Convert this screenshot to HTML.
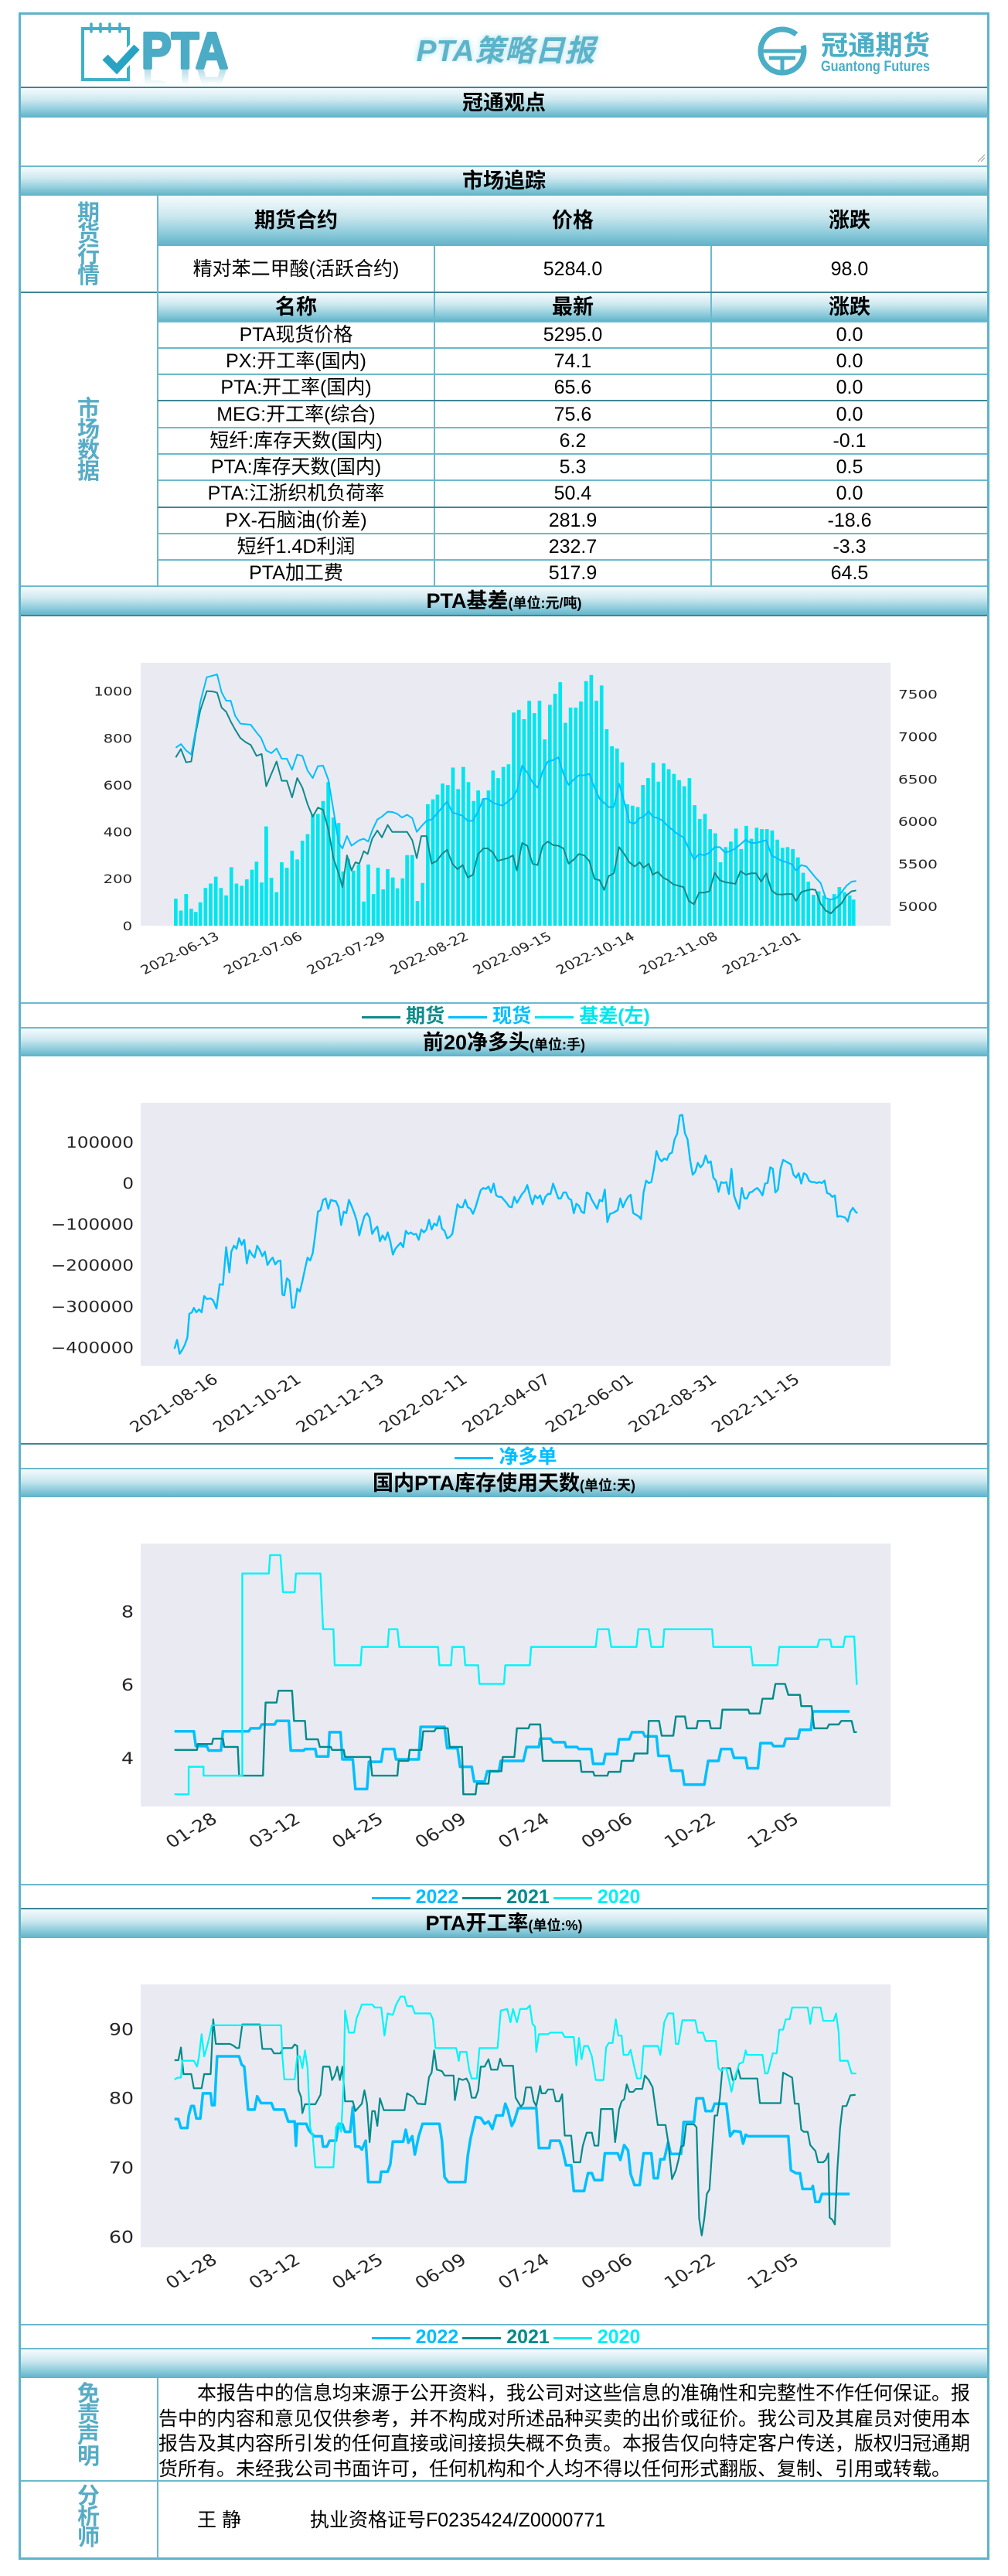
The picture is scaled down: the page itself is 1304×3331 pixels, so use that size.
<!DOCTYPE html>
<html><head><meta charset="utf-8">
<style>
*{margin:0;padding:0;box-sizing:border-box}
body{width:1304px;height:3331px;position:relative;background:#fff;overflow:hidden;font-family:"Liberation Sans","Noto Sans CJK SC",sans-serif;color:#000}
.frame{position:absolute;left:24px;top:16px;width:1256px;height:3294px;border:3px solid #5fb3c9}
.bar{position:absolute;left:27px;width:1250px;background:linear-gradient(to bottom,#f5fbfd 0%,#cde8ef 40%,#8ccbdb 75%,#5fb2c8 100%);text-align:center;font-weight:bold;font-size:27px;white-space:nowrap}
.bar small{font-size:18px;font-weight:bold}
.hl{position:absolute;left:27px;width:1250px;height:2px;background:#6cb9cd}
.dl{position:absolute;left:27px;width:1250px;height:2px;background:#3e8595}
.vl{position:absolute;width:2px;background:#6cb9cd}
.c{position:absolute;text-align:center;font-size:25px;white-space:nowrap;height:34px;line-height:34px}
.h{position:absolute;text-align:center;font-size:27px;font-weight:bold;white-space:nowrap}
.vt{position:absolute;left:25px;width:179px;text-align:center;color:#56acc6;font-weight:bold;font-size:29px;line-height:27px}
.lg{position:absolute;left:27px;width:1250px;text-align:center;font-weight:bold;font-size:25px;white-space:nowrap;height:32px;line-height:32px}
.lg i{display:inline-block;width:50px;height:3px;vertical-align:middle;margin:0 7px 0 5px}
.dis{position:absolute;left:205px;font-size:25px;line-height:32.7px;white-space:nowrap}
</style></head><body>
<div class="frame"></div>

<!-- header -->
<svg class="a" style="position:absolute;left:0;top:0" width="1304" height="115">
  <defs>
    <linearGradient id="rf" gradientUnits="userSpaceOnUse" x1="0" y1="88" x2="0" y2="66">
      <stop offset="0" stop-color="#4cabc5" stop-opacity="0.45"/>
      <stop offset="1" stop-color="#4cabc5" stop-opacity="0"/>
    </linearGradient>
  </defs>
  <rect x="107" y="37" width="59" height="66" fill="none" stroke="#3eb0c9" stroke-width="4"/>
  <g stroke="#3eb0c9" stroke-width="3.5" stroke-linecap="round">
    <line x1="118" y1="31" x2="118" y2="41"/><line x1="130" y1="31" x2="130" y2="41"/>
    <line x1="142" y1="31" x2="142" y2="41"/><line x1="155" y1="31" x2="155" y2="41"/>
  </g>
  <polyline points="136,74 151,89 177,61" fill="none" stroke="#fff" stroke-width="18"/>
  <polyline points="136,74 151,89 177,61" fill="none" stroke="#29a3c3" stroke-width="10"/>
  <text x="183" y="88" font-family="Liberation Sans" font-weight="bold" font-size="66" fill="#4cabc5" stroke="#4cabc5" stroke-width="3.5" stroke-linejoin="round" textLength="112" lengthAdjust="spacingAndGlyphs">PTA</text>
  <g transform="translate(0,176) scale(1,-1)">
    <text x="183" y="88" font-family="Liberation Sans" font-weight="bold" font-size="66" fill="url(#rf)" textLength="112" lengthAdjust="spacingAndGlyphs">PTA</text>
  </g>
  <path d="M1030,44.6 A28,28 0 1,0 1039,58.8" fill="none" stroke="#4aaec6" stroke-width="7"/>
  <g stroke="#4aaec6" stroke-width="5">
    <line x1="986" y1="66" x2="1041" y2="66"/>
    <line x1="995" y1="75" x2="1029" y2="75"/>
    <line x1="1012" y1="75" x2="1012" y2="93"/>
  </g>
  <text x="1062" y="71" font-family="Liberation Sans,Noto Sans CJK SC,sans-serif" font-weight="bold" font-size="35" fill="#4aaec6" textLength="141" lengthAdjust="spacingAndGlyphs">冠通期货</text>
  <text x="1062" y="92" font-family="Liberation Sans,sans-serif" font-weight="bold" font-size="19" fill="#4aaec6" textLength="141" lengthAdjust="spacingAndGlyphs">Guantong Futures</text>
</svg>
<div class="a" style="position:absolute;left:454px;top:47px;width:400px;height:40px;line-height:40px;text-align:center;font-size:39px;font-weight:bold;font-style:italic;color:#5db3c9;text-shadow:0 0 6px #bfe6ef,0 0 12px #d5eff5;white-space:nowrap">PTA策略日报</div>
<div class="dl" style="top:112px"></div>

<!-- 冠通观点 -->
<div class="bar" style="top:114px;height:38px;line-height:38px">冠通观点</div>
<svg style="position:absolute;left:1262px;top:197px" width="14" height="14"><line x1="3" y1="12" x2="12" y2="3" stroke="#999" stroke-width="1"/><line x1="7" y1="12" x2="12" y2="7" stroke="#999" stroke-width="1"/></svg>
<div class="hl" style="top:214px"></div>

<!-- 市场追踪 -->
<div class="bar" style="top:216px;height:37px;line-height:37px">市场追踪</div>

<!-- futures -->
<div class="bar" style="left:205px;width:1072px;top:253px;height:65px"></div>
<div class="h" style="left:204px;width:358px;top:253px;height:65px;line-height:65px">期货合约</div>
<div class="h" style="left:562px;width:358px;top:253px;height:65px;line-height:65px">价格</div>
<div class="h" style="left:920px;width:358px;top:253px;height:65px;line-height:65px">涨跌</div>
<div class="c" style="left:204px;width:358px;top:331px">精对苯二甲酸(活跃合约)</div>
<div class="c" style="left:562px;width:358px;top:331px">5284.0</div>
<div class="c" style="left:920px;width:358px;top:331px">98.0</div>
<div class="vl" style="left:561px;top:318px;height:60px"></div>
<div class="vl" style="left:919px;top:318px;height:60px"></div>
<div class="vt" style="top:263px">期<br>货<br>行<br>情</div>
<div class="dl" style="top:377px"></div>

<!-- market data -->
<div class="bar" style="left:205px;width:1072px;top:379px;height:37px"></div>
<div class="h" style="left:204px;width:358px;top:379px;height:37px;line-height:37px">名称</div>
<div class="h" style="left:562px;width:358px;top:379px;height:37px;line-height:37px">最新</div>
<div class="h" style="left:920px;width:358px;top:379px;height:37px;line-height:37px">涨跌</div>
<div class="vt" style="top:516px">市<br>场<br>数<br>据</div>
<div class="vl" style="left:203px;top:253px;height:505px"></div>
<div class="vl" style="left:561px;top:379px;height:379px"></div>
<div class="vl" style="left:919px;top:379px;height:379px"></div>

<div class="hl" style="left:204px;width:1073px;top:415px"></div>
<div class="hl" style="left:204px;width:1073px;top:449px"></div>
<div class="hl" style="left:204px;width:1073px;top:483px"></div>
<div class="dl" style="left:204px;width:1073px;top:517px"></div>
<div class="hl" style="left:204px;width:1073px;top:552px"></div>
<div class="hl" style="left:204px;width:1073px;top:586px"></div>
<div class="hl" style="left:204px;width:1073px;top:620px"></div>
<div class="dl" style="left:204px;width:1073px;top:655px"></div>
<div class="hl" style="left:204px;width:1073px;top:689px"></div>
<div class="hl" style="left:204px;width:1073px;top:723px"></div>

<div class="c" style="left:204px;width:358px;top:416px">PTA现货价格</div><div class="c" style="left:562px;width:358px;top:416px">5295.0</div><div class="c" style="left:920px;width:358px;top:416px">0.0</div>
<div class="c" style="left:204px;width:358px;top:450px">PX:开工率(国内)</div><div class="c" style="left:562px;width:358px;top:450px">74.1</div><div class="c" style="left:920px;width:358px;top:450px">0.0</div>
<div class="c" style="left:204px;width:358px;top:484px">PTA:开工率(国内)</div><div class="c" style="left:562px;width:358px;top:484px">65.6</div><div class="c" style="left:920px;width:358px;top:484px">0.0</div>
<div class="c" style="left:204px;width:358px;top:519px">MEG:开工率(综合)</div><div class="c" style="left:562px;width:358px;top:519px">75.6</div><div class="c" style="left:920px;width:358px;top:519px">0.0</div>
<div class="c" style="left:204px;width:358px;top:553px">短纤:库存天数(国内)</div><div class="c" style="left:562px;width:358px;top:553px">6.2</div><div class="c" style="left:920px;width:358px;top:553px">-0.1</div>
<div class="c" style="left:204px;width:358px;top:587px">PTA:库存天数(国内)</div><div class="c" style="left:562px;width:358px;top:587px">5.3</div><div class="c" style="left:920px;width:358px;top:587px">0.5</div>
<div class="c" style="left:204px;width:358px;top:621px">PTA:江浙织机负荷率</div><div class="c" style="left:562px;width:358px;top:621px">50.4</div><div class="c" style="left:920px;width:358px;top:621px">0.0</div>
<div class="c" style="left:204px;width:358px;top:656px">PX-石脑油(价差)</div><div class="c" style="left:562px;width:358px;top:656px">281.9</div><div class="c" style="left:920px;width:358px;top:656px">-18.6</div>
<div class="c" style="left:204px;width:358px;top:690px">短纤1.4D利润</div><div class="c" style="left:562px;width:358px;top:690px">232.7</div><div class="c" style="left:920px;width:358px;top:690px">-3.3</div>
<div class="c" style="left:204px;width:358px;top:724px">PTA加工费</div><div class="c" style="left:562px;width:358px;top:724px">517.9</div><div class="c" style="left:920px;width:358px;top:724px">64.5</div>
<div class="hl" style="top:757px"></div>

<!-- chart bars and legends -->
<div class="bar" style="top:759px;height:37px;line-height:37px">PTA基差<small>(单位:元/吨)</small></div>
<div class="dl" style="top:795px"></div>
<div class="hl" style="top:1296px"></div>
<div class="lg" style="top:1298px"><i style="background:#0f8b8b"></i><span style="color:#0f8b8b">期货</span><i style="background:#00bfff"></i><span style="color:#00bfff">现货</span><i style="background:#00e5ee"></i><span style="color:#00e5ee">基差(左)</span></div>
<div class="hl" style="top:1328px"></div>

<div class="bar" style="top:1330px;height:36px;line-height:36px">前20净多头<small>(单位:手)</small></div>
<div class="dl" style="top:1866px"></div>
<div class="lg" style="top:1868px"><i style="background:#00bfff"></i><span style="color:#00bfff">净多单</span></div>
<div class="hl" style="top:1898px"></div>

<div class="bar" style="top:1900px;height:36px;line-height:36px">国内PTA库存使用天数<small>(单位:天)</small></div>
<div class="hl" style="top:2436px"></div>
<div class="lg" style="top:2437px"><i style="background:#00bfff"></i><span style="color:#00bfff">2022</span><i style="background:#008b8b"></i><span style="color:#008b8b">2021</span><i style="background:#00f0f5"></i><span style="color:#00f0f5">2020</span></div>
<div class="dl" style="top:2467px"></div>

<div class="bar" style="top:2469px;height:37px;line-height:37px">PTA开工率<small>(单位:%)</small></div>
<div class="hl" style="top:3005px"></div>
<div class="lg" style="top:3006px"><i style="background:#00bfff"></i><span style="color:#00bfff">2022</span><i style="background:#008b8b"></i><span style="color:#008b8b">2021</span><i style="background:#00f0f5"></i><span style="color:#00f0f5">2020</span></div>
<div class="hl" style="top:3036px"></div>

<div class="bar" style="top:3038px;height:37px"></div>

<!-- disclaimer -->
<div class="vl" style="left:203px;top:3075px;height:234px"></div>
<div class="vt" style="top:3083px">免<br>责<br>声<br>明</div>
<div class="dis" style="top:3079px">
<span style="padding-left:50px">本报告中的信息均来源于公开资料，我公司对这些信息的准确性和完整性不作任何保证。报</span><br>告中的内容和意见仅供参考，并不构成对所述品种买卖的出价或征价。我公司及其雇员对使用本<br>报告及其内容所引发的任何直接或间接损失概不负责。本报告仅向特定客户传送，版权归冠通期<br>货所有。未经我公司书面许可，任何机构和个人均不得以任何形式翻版、复制、引用或转载。</div>
<div class="hl" style="top:3207px"></div>
<div class="vt" style="top:3215px">分<br>析<br>师</div>
<div class="a" style="position:absolute;left:255px;top:3242px;font-size:25px;line-height:34px;white-space:nowrap">王 静</div>
<div class="a" style="position:absolute;left:401px;top:3242px;font-size:25px;line-height:34px;white-space:nowrap">执业资格证号F0235424/Z0000771</div>

<!-- charts -->
<svg style="position:absolute;left:0;top:0" width="1304" height="3331" font-family="DejaVu Sans" fill="#262626">
<!-- chart 1 -->
<rect x="182" y="857" width="970" height="340" fill="#eaeaf2"/>
<g transform="matrix(0.8359 0 0 0.35714 0 790)">
<path fill="none" stroke="#00e5ee" stroke-width="5.6" d="M272 1140V1042M280 1140V1085M288 1140V1025M296 1140V1078M303 1140V1090M310 1140V1055M318 1140V1003M326 1140V987M334 1140V962M342 1140V1003M350 1140V1030M358 1140V928M366 1140V987M374 1140V995M382 1140V972M390 1140V937M397 1140V908M405 1140V983M412 1140V780M420 1140V966M428 1140V1018M436 1140V910M444 1140V930M452 1140V868M460 1140V900M468 1140V832M476 1140V808M484 1140V735M492 1140V735M500 1140V688M508 1140V620M516 1140V748M524 1140V768M531 1140V943M539 1140V898M547 1140V940M555 1140V918M563 1140V1052M570 1140V918M578 1140V1025M585 1140V930M593 1140V1008M600 1140V935M608 1140V965M615 1140V1004M623 1140V968M630 1140V884M638 1140V884M646 1140V1050M654 1140V985M662 1140V700M670 1140V682M677 1140V665M685 1140V625M693 1140V630M701 1140V567M709 1140V645M717 1140V565M725 1140V620M733 1140V688M740 1140V650M748 1140V680M756 1140V650M763 1140V578M771 1140V605M779 1140V565M787 1140V555M795 1140V368M803 1140V358M811 1140V392M819 1140V325M827 1140V370M835 1140V325M843 1140V465M851 1140V340M859 1140V300M867 1140V258M875 1140V405M883 1140V350M891 1140V350M899 1140V328M907 1140V254M915 1140V232M923 1140V325M931 1140V270M939 1140V428M947 1140V490M955 1140V498M963 1140V548M971 1140V700M979 1140V705M987 1140V710M995 1140V630M1003 1140V605M1011 1140V550M1019 1140V618M1027 1140V552M1035 1140V573M1043 1140V590M1051 1140V613M1059 1140V635M1067 1140V605M1075 1140V703M1083 1140V753M1091 1140V735M1099 1140V790M1107 1140V805M1115 1140V910M1123 1140V855M1131 1140V835M1139 1140V788M1147 1140V862M1155 1140V778M1163 1140V825M1171 1140V785M1179 1140V790M1187 1140V790M1195 1140V795M1203 1140V828M1211 1140V858M1219 1140V855M1227 1140V862M1235 1140V892M1243 1140V948M1251 1140V980M1259 1140V1028M1267 1140V1015M1275 1140V1030M1283 1140V1042M1291 1140V1025M1299 1140V1000M1307 1140V1018M1315 1140V1030M1321 1140V1045"/>
<polyline fill="none" stroke="#0f8b8b" stroke-width="2" stroke-linejoin="round" vector-effect="non-scaling-stroke" points="272,530 280,500 288,548 296,545 303,440 310,360 320,290 330,292 336,296 343,350 350,365 357,400 364,430 372,460 380,475 388,485 397,525 405,518 412,635 420,590 428,545 436,615 444,615 452,675 460,605 468,640 476,700 484,745 492,712 500,720 508,790 516,895 524,950 530,1000 537,885 544,940 550,910 556,915 563,870 569,880 576,825 584,795 591,820 600,775 607,800 615,800 622,800 630,800 638,830 645,895 652,815 660,815 668,915 676,905 684,880 692,865 700,915 708,935 716,920 724,965 732,955 740,880 748,860 755,860 763,875 770,905 778,900 786,895 794,885 800,940 808,840 816,850 824,915 832,920 840,850 848,835 856,848 864,850 872,860 880,915 888,900 896,880 904,885 912,905 920,970 928,975 935,1010 942,960 950,950 958,855 966,880 974,910 982,925 990,910 996,930 1004,915 1010,955 1018,945 1026,965 1034,975 1042,990 1050,995 1058,1000 1066,1050 1074,1062 1082,1020 1090,1020 1098,1015 1106,948 1114,975 1122,982 1130,985 1138,988 1146,942 1154,955 1162,950 1170,950 1178,980 1186,950 1194,1012 1202,1026 1210,1027 1218,1025 1226,1025 1232,1050 1240,1018 1248,1012 1256,1008 1262,1010 1270,1060 1278,1085 1286,1095 1294,1075 1302,1060 1310,1030 1318,1015 1325,1012"/>
<polyline fill="none" stroke="#00bfff" stroke-width="2" stroke-linejoin="round" vector-effect="non-scaling-stroke" points="272,495 280,482 288,505 296,520 303,430 310,330 320,240 328,235 336,230 343,295 350,325 357,325 364,380 372,408 380,410 388,412 397,440 404,460 412,505 420,515 428,498 436,535 444,535 452,575 460,520 468,525 476,578 484,605 492,562 500,560 508,610 516,720 524,840 530,860 537,815 544,850 550,840 556,830 563,825 570,835 576,795 584,755 591,745 600,727 607,728 615,735 622,748 630,738 638,750 645,800 652,780 660,760 668,755 676,735 684,712 692,690 700,730 708,735 716,742 724,760 732,760 740,725 748,680 755,680 763,695 770,700 778,705 786,690 794,675 800,650 808,560 816,585 824,620 832,640 840,580 848,545 856,540 864,530 872,590 880,630 888,610 896,595 904,595 912,590 920,640 928,680 935,695 942,710 950,710 958,625 966,690 974,765 982,770 990,750 996,745 1004,725 1010,745 1018,750 1026,760 1034,780 1042,795 1050,810 1058,820 1066,860 1074,900 1082,880 1090,885 1098,875 1106,855 1114,855 1122,875 1130,870 1138,860 1146,845 1154,828 1162,840 1170,840 1178,835 1186,830 1194,885 1202,895 1210,905 1218,910 1226,918 1232,940 1240,920 1248,925 1256,948 1262,965 1270,985 1278,1040 1286,1045 1294,1040 1302,1020 1310,995 1318,980 1325,978"/>
</g>
<g font-size="16" text-anchor="end">
<text transform="translate(171 1202.8) scale(1.22 1)">0</text>
<text transform="translate(171 1142.2) scale(1.22 1)">200</text>
<text transform="translate(171 1081.5) scale(1.22 1)">400</text>
<text transform="translate(171 1020.8) scale(1.22 1)">600</text>
<text transform="translate(171 960.4) scale(1.22 1)">800</text>
<text transform="translate(171 899.4) scale(1.22 1)">1000</text>
<text transform="translate(285 1214) scale(1.22 1) rotate(-30)">2022-06-13</text>
<text transform="translate(392.5 1214) scale(1.22 1) rotate(-30)">2022-07-06</text>
<text transform="translate(500 1214) scale(1.22 1) rotate(-30)">2022-07-29</text>
<text transform="translate(607.5 1214) scale(1.22 1) rotate(-30)">2022-08-22</text>
<text transform="translate(715 1214) scale(1.22 1) rotate(-30)">2022-09-15</text>
<text transform="translate(822.5 1214) scale(1.22 1) rotate(-30)">2022-10-14</text>
<text transform="translate(930 1214) scale(1.22 1) rotate(-30)">2022-11-08</text>
<text transform="translate(1037.5 1214) scale(1.22 1) rotate(-30)">2022-12-01</text>
</g>
<g font-size="16" text-anchor="start">
<text transform="translate(1162 1177.9) scale(1.25 1)">5000</text>
<text transform="translate(1162 1123.1) scale(1.25 1)">5500</text>
<text transform="translate(1162 1068.2) scale(1.25 1)">6000</text>
<text transform="translate(1162 1013.4) scale(1.25 1)">6500</text>
<text transform="translate(1162 958.5) scale(1.25 1)">7000</text>
<text transform="translate(1162 903.7) scale(1.25 1)">7500</text>
</g>

<!-- chart 2 -->
<rect x="182" y="1426" width="970" height="340" fill="#eaeaf2"/>
<g transform="matrix(0.8359 0 0 0.3827 0 1320)">
<polyline fill="none" stroke="#00bfff" stroke-width="2.4" stroke-linejoin="round" vector-effect="non-scaling-stroke" points="270,1108 274,1078 278,1125 282,1112 286,1095 290,1070 293,990 297,985 300,970 304,985 308,975 312,985 316,930 320,940 326,938 330,945 335,972 340,890 345,892 350,765 355,850 358,780 362,760 366,770 370,735 374,757 378,740 382,820 386,775 390,790 394,800 398,760 402,775 406,795 410,780 414,825 418,810 422,800 426,823 430,812 434,810 437,925 440,928 444,870 448,878 452,970 456,968 460,905 464,915 468,880 472,838 476,800 480,810 484,785 488,720 492,645 496,640 500,605 504,600 508,635 512,605 516,608 520,610 524,630 528,690 532,645 536,650 540,605 544,625 548,648 552,675 556,725 560,690 564,660 568,650 572,665 576,720 580,705 584,695 588,745 592,725 596,740 600,715 604,745 608,790 612,770 616,760 620,750 624,765 628,710 632,720 636,715 640,722 644,720 648,740 652,705 656,715 660,705 664,672 668,705 672,685 676,692 680,660 684,702 688,710 692,735 696,730 700,720 704,670 708,620 712,630 716,630 720,605 724,630 728,635 732,652 736,630 740,600 744,572 748,565 752,568 756,560 760,580 764,550 768,590 772,595 776,595 780,605 784,615 788,628 792,630 796,595 800,615 804,600 808,585 812,575 816,555 820,590 824,620 828,590 832,600 836,590 840,620 844,595 848,585 852,585 856,550 860,575 864,600 868,600 872,580 876,580 880,600 884,605 888,650 892,618 896,625 900,645 904,650 908,580 912,585 916,605 920,620 924,635 928,605 932,610 936,570 940,680 944,652 948,650 952,645 956,640 960,600 964,630 968,610 972,595 976,588 980,650 984,655 988,660 992,670 996,580 1000,540 1004,548 1008,545 1012,500 1016,440 1020,465 1024,475 1028,465 1032,470 1036,450 1040,445 1044,400 1048,382 1052,320 1056,318 1060,380 1064,400 1068,470 1072,520 1076,510 1080,480 1084,495 1088,485 1092,455 1096,480 1100,475 1104,530 1108,540 1112,578 1116,545 1120,548 1124,545 1128,585 1132,500 1136,590 1140,615 1144,635 1148,565 1152,600 1156,600 1160,580 1164,578 1168,570 1172,565 1176,575 1180,590 1184,550 1188,548 1192,495 1196,500 1200,580 1204,570 1208,500 1212,470 1216,475 1220,480 1224,485 1228,520 1232,530 1236,515 1240,550 1244,515 1248,520 1252,540 1256,545 1260,545 1264,548 1268,545 1272,548 1276,540 1280,582 1284,585 1288,595 1292,590 1296,662 1300,660 1304,662 1308,665 1312,678 1316,645 1320,632 1324,645 1327,650"/>
</g>
<g font-size="19.5" text-anchor="end">
<text transform="translate(173 1484) scale(1.18 1)">100000</text>
<text transform="translate(173 1536.8) scale(1.18 1)">0</text>
<text transform="translate(173 1590) scale(1.18 1)">−100000</text>
<text transform="translate(173 1643.2) scale(1.18 1)">−200000</text>
<text transform="translate(173 1696.4) scale(1.18 1)">−300000</text>
<text transform="translate(173 1749.6) scale(1.18 1)">−400000</text>
<text transform="translate(283.5 1786.5) scale(1.18 1) rotate(-36)">2021-08-16</text>
<text transform="translate(391 1786.5) scale(1.18 1) rotate(-36)">2021-10-21</text>
<text transform="translate(498.5 1786.5) scale(1.18 1) rotate(-36)">2021-12-13</text>
<text transform="translate(606 1786.5) scale(1.18 1) rotate(-36)">2022-02-11</text>
<text transform="translate(713.5 1786.5) scale(1.18 1) rotate(-36)">2022-04-07</text>
<text transform="translate(821 1786.5) scale(1.18 1) rotate(-36)">2022-06-01</text>
<text transform="translate(928.5 1786.5) scale(1.18 1) rotate(-36)">2022-08-31</text>
<text transform="translate(1036 1786.5) scale(1.18 1) rotate(-36)">2022-11-15</text>
</g>

<!-- chart 3 -->
<rect x="182" y="1996" width="970" height="340" fill="#eaeaf2"/>
<g transform="matrix(0.8359 0 0 0.3827 0 1900)" fill="none" stroke-linejoin="round">
<polyline stroke="#00bfff" stroke-width="3.5" vector-effect="non-scaling-stroke" points="270,885 300,885 303,935 320,935 323,950 342,950 345,885 385,885 388,875 402,875 405,862 425,862 428,850 447,850 450,950 470,950 472,945 488,945 490,970 508,970 510,888 527,888 530,980 546,980 550,1080 568,1080 571,988 590,988 593,945 610,945 613,980 648,980 651,870 688,870 692,942 708,942 712,1005 730,1005 734,1055 750,1055 754,1020 772,1020 775,985 810,985 815,938 834,938 836,910 852,910 856,922 874,922 876,938 893,938 896,945 915,945 918,995 934,995 937,962 955,962 958,912 974,912 978,888 995,888 998,902 1016,902 1019,968 1035,968 1039,1018 1056,1018 1059,1065 1090,1065 1096,985 1112,985 1116,945 1132,945 1136,975 1154,975 1157,1010 1173,1010 1177,925 1194,925 1197,935 1213,935 1216,910 1235,910 1238,880 1255,880 1258,818 1315,818"/>
<polyline stroke="#008b8b" stroke-width="2.4" vector-effect="non-scaling-stroke" points="270,948 305,948 306,928 328,928 330,910 345,910 347,938 368,938 370,1035 407,1035 411,788 428,788 431,748 452,748 455,850 472,850 474,912 492,912 495,938 512,938 514,948 532,948 534,972 573,972 576,1035 615,1035 617,985 632,985 634,948 652,948 655,885 672,885 675,875 693,875 696,938 715,938 717,1098 736,1098 738,1062 756,1062 758,1020 776,1020 778,972 796,972 800,875 818,875 820,862 836,862 840,985 898,985 900,1022 918,1022 920,1035 940,1035 942,1022 960,1022 962,985 980,985 982,960 1002,960 1004,850 1020,850 1024,900 1042,900 1046,835 1060,835 1063,875 1078,875 1080,850 1098,850 1100,875 1115,875 1118,812 1158,812 1160,825 1176,825 1180,775 1196,775 1200,725 1215,725 1220,762 1238,762 1240,800 1256,800 1260,875 1280,875 1283,862 1298,862 1302,850 1318,850 1322,888 1326,888"/>
<polyline stroke="#00f5f8" stroke-width="2.4" vector-effect="non-scaling-stroke" points="270,1098 292,1098 292,1005 315,1005 315,1035 375,1035 375,352 416,352 418,290 434,290 438,415 456,415 458,352 496,352 500,540 516,540 518,662 558,662 560,600 600,600 602,540 615,540 618,600 678,600 680,662 698,662 700,600 718,600 720,662 740,662 742,725 780,725 782,662 820,662 822,600 922,600 925,540 942,540 946,600 985,600 988,540 1004,540 1008,600 1026,600 1028,540 1102,540 1104,600 1162,600 1165,662 1203,662 1206,600 1265,600 1268,575 1285,575 1287,600 1305,600 1308,565 1322,565 1326,728"/>
</g>
<g font-size="21.5" text-anchor="end">
<text transform="translate(173 2091.5) scale(1.17 1)">8</text>
<text transform="translate(173 2186) scale(1.17 1)">6</text>
<text transform="translate(173 2280.9) scale(1.17 1)">4</text>
<text transform="translate(282.5 2355.5) scale(1.17 1) rotate(-34)">01-28</text>
<text transform="translate(390 2355.5) scale(1.17 1) rotate(-34)">03-12</text>
<text transform="translate(497.5 2355.5) scale(1.17 1) rotate(-34)">04-25</text>
<text transform="translate(605 2355.5) scale(1.17 1) rotate(-34)">06-09</text>
<text transform="translate(712.5 2355.5) scale(1.17 1) rotate(-34)">07-24</text>
<text transform="translate(820 2355.5) scale(1.17 1) rotate(-34)">09-06</text>
<text transform="translate(927.5 2355.5) scale(1.17 1) rotate(-34)">10-22</text>
<text transform="translate(1035 2355.5) scale(1.17 1) rotate(-34)">12-05</text>
</g>

<!-- chart 4 -->
<rect x="182" y="2566" width="970" height="340" fill="#eaeaf2"/>
<g transform="matrix(0.8359 0 0 0.3827 0 2460)" fill="none" stroke-linejoin="round">
<polyline stroke="#00bfff" stroke-width="3.5" vector-effect="non-scaling-stroke" points="270,732 276,732 280,762 290,762 292,720 296,688 300,688 304,730 310,730 314,645 326,645 328,685 332,685 336,520 370,520 374,548 378,555 384,700 394,700 398,655 404,678 420,678 424,700 440,700 446,740 456,740 458,822 460,748 474,748 478,770 486,790 498,790 500,825 506,825 510,805 520,805 524,748 530,750 534,775 542,775 546,692 550,825 556,825 560,835 566,805 570,945 588,945 590,910 600,910 604,885 608,808 624,808 628,768 632,812 638,790 642,852 648,790 654,748 680,748 684,805 688,928 694,945 720,945 724,855 728,800 736,725 744,728 750,748 756,740 762,765 768,720 778,720 782,680 786,702 792,755 796,738 802,695 830,695 834,830 850,830 852,805 866,805 870,830 876,888 884,888 888,975 904,975 910,915 916,915 920,938 932,938 936,848 956,848 960,870 966,820 972,838 976,918 982,955 990,955 996,848 1008,848 1012,932 1018,932 1022,868 1028,868 1034,810 1038,850 1054,850 1058,742 1074,742 1078,662 1088,662 1092,705 1102,705 1106,680 1124,680 1130,790 1136,772 1146,775 1150,815 1154,785 1158,790 1220,790 1224,905 1232,915 1238,915 1242,968 1256,968 1258,958 1262,1012 1268,1012 1272,985 1290,985 1315,985"/>
<polyline stroke="#008b8b" stroke-width="2.2" vector-effect="non-scaling-stroke" points="270,533 276,533 280,490 284,580 296,580 300,628 312,628 316,580 326,580 330,395 334,478 356,478 362,485 366,492 370,492 375,412 402,412 406,495 420,495 424,510 434,510 438,492 452,492 456,480 460,485 462,635 466,658 468,712 472,682 488,682 496,650 500,555 510,555 514,600 518,585 522,555 526,600 530,555 534,672 546,672 550,705 556,690 560,680 564,635 568,680 572,810 576,705 580,705 584,755 588,662 594,702 626,702 630,645 640,658 646,680 658,682 664,590 668,575 672,500 676,565 684,570 688,585 702,585 704,668 710,595 716,600 722,595 726,612 730,660 736,660 740,635 744,555 750,555 756,530 760,565 770,565 774,528 778,552 794,552 798,660 806,690 810,680 814,625 822,625 826,672 830,688 836,620 838,645 844,645 848,632 856,632 860,672 866,672 870,648 874,788 884,788 888,878 898,878 902,822 908,778 916,778 920,822 926,822 930,698 948,698 952,810 958,700 962,672 966,665 970,615 974,640 980,640 984,630 994,630 998,585 1004,600 1010,625 1018,752 1030,752 1034,808 1040,935 1046,905 1050,870 1054,825 1058,822 1062,750 1074,750 1078,760 1082,1068 1086,1125 1090,1068 1094,985 1098,970 1102,840 1106,720 1110,720 1114,660 1118,560 1130,560 1134,600 1138,598 1142,560 1146,595 1172,595 1176,678 1208,678 1212,575 1226,592 1230,680 1236,680 1240,768 1244,775 1250,775 1254,820 1262,840 1266,878 1274,878 1278,870 1282,848 1284,1065 1288,1072 1292,1088 1296,900 1300,765 1304,688 1310,688 1316,652 1324,650"/>
<polyline stroke="#00f5f8" stroke-width="2.2" vector-effect="non-scaling-stroke" points="270,598 275,592 280,592 282,535 300,535 305,555 308,520 312,445 316,520 320,490 324,455 328,415 435,415 437,520 440,598 456,598 460,520 464,520 468,560 472,500 476,560 480,760 484,790 488,895 516,895 520,760 524,745 528,775 532,600 534,365 540,440 548,440 552,390 556,370 560,345 576,345 580,355 590,355 595,450 600,375 608,380 613,345 620,318 626,318 630,350 638,350 642,375 666,375 670,395 674,492 706,492 710,535 712,505 722,505 726,565 730,595 738,595 742,492 770,492 775,365 785,360 790,405 794,360 800,405 805,360 815,360 820,348 824,410 828,420 830,505 834,445 848,445 852,440 870,440 874,455 888,455 892,550 896,458 900,530 904,485 910,485 916,520 922,600 934,600 938,490 942,475 948,475 953,395 957,450 962,450 965,515 972,515 976,498 982,560 986,595 992,595 996,485 1018,485 1022,515 1028,405 1034,375 1042,375 1046,478 1050,478 1056,398 1076,398 1080,440 1088,440 1092,468 1108,468 1112,560 1116,570 1120,560 1124,560 1128,598 1132,640 1136,600 1144,545 1150,540 1154,500 1156,515 1180,515 1184,578 1188,578 1192,545 1196,510 1202,510 1206,430 1212,430 1216,395 1222,395 1226,355 1250,355 1254,410 1258,355 1270,355 1274,400 1290,400 1294,375 1298,440 1300,535 1312,535 1318,578 1325,578"/>
</g>
<g font-size="21.5" text-anchor="end">
<text transform="translate(173 2631.6) scale(1.17 1)">90</text>
<text transform="translate(173 2720.4) scale(1.17 1)">80</text>
<text transform="translate(173 2810.3) scale(1.17 1)">70</text>
<text transform="translate(173 2900.2) scale(1.17 1)">60</text>
<text transform="translate(282.5 2925.5) scale(1.17 1) rotate(-34)">01-28</text>
<text transform="translate(390 2925.5) scale(1.17 1) rotate(-34)">03-12</text>
<text transform="translate(497.5 2925.5) scale(1.17 1) rotate(-34)">04-25</text>
<text transform="translate(605 2925.5) scale(1.17 1) rotate(-34)">06-09</text>
<text transform="translate(712.5 2925.5) scale(1.17 1) rotate(-34)">07-24</text>
<text transform="translate(820 2925.5) scale(1.17 1) rotate(-34)">09-06</text>
<text transform="translate(927.5 2925.5) scale(1.17 1) rotate(-34)">10-22</text>
<text transform="translate(1035 2925.5) scale(1.17 1) rotate(-34)">12-05</text>
</g>
</svg>
</body></html>
